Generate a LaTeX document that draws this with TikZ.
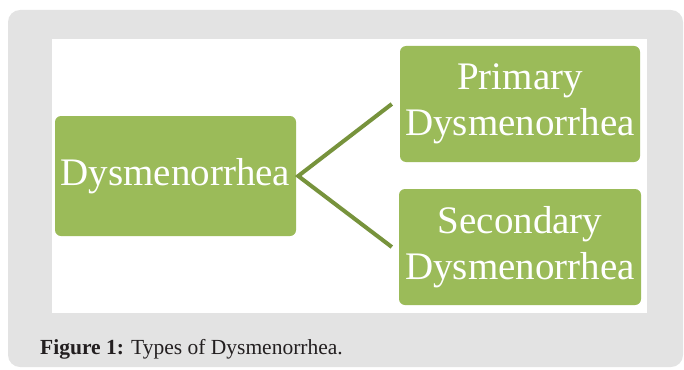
\documentclass[tikz,border=0pt]{standalone}
\usepackage{fontspec}
\setmainfont{Liberation Serif}
\definecolor{bggray}{HTML}{E3E3E3}
\definecolor{boxgreen}{HTML}{9BBB59}
\definecolor{linegreen}{HTML}{77933C}
\definecolor{captext}{HTML}{231F20}
\tikzset{
  greenbox/.style={draw=none, fill=boxgreen, rounded corners=6pt, text=white,
    align=center, inner sep=0pt, font=\fontsize{39}{46}\selectfont},
  branch/.style={draw=linegreen, line width=4pt, line join=miter},
  caption/.style={anchor=base west, inner sep=0pt, text=captext, font=\fontsize{21.5}{26}\selectfont}
}
\begin{document}
\begin{tikzpicture}[x=1pt,y=-1pt]
\useasboundingbox (0,0) rectangle (684,369);
\fill[bggray, rounded corners=12pt] (8,10) rectangle (683,367);
\fill[white] (52,39) rectangle (647,313);
\node[greenbox, minimum width=241pt, minimum height=120pt] (dys) at (175.5,176) {Dysmenorrhea};
\node[greenbox, minimum width=240pt, minimum height=116pt] (prim) at (520,104) {Primary\\Dysmenorrhea};
\node[greenbox, minimum width=242pt, minimum height=116pt] (sec) at (520,247) {Secondary\\Dysmenorrhea};
\draw[branch] ([xshift=-8pt]prim.west) -- ([xshift=2pt]dys.east) -- ([xshift=-7pt]sec.west);
\node[caption] (cap) at (40,354) {\textbf{Figure 1:} Types of Dysmenorrhea.};
\end{tikzpicture}
\end{document}
